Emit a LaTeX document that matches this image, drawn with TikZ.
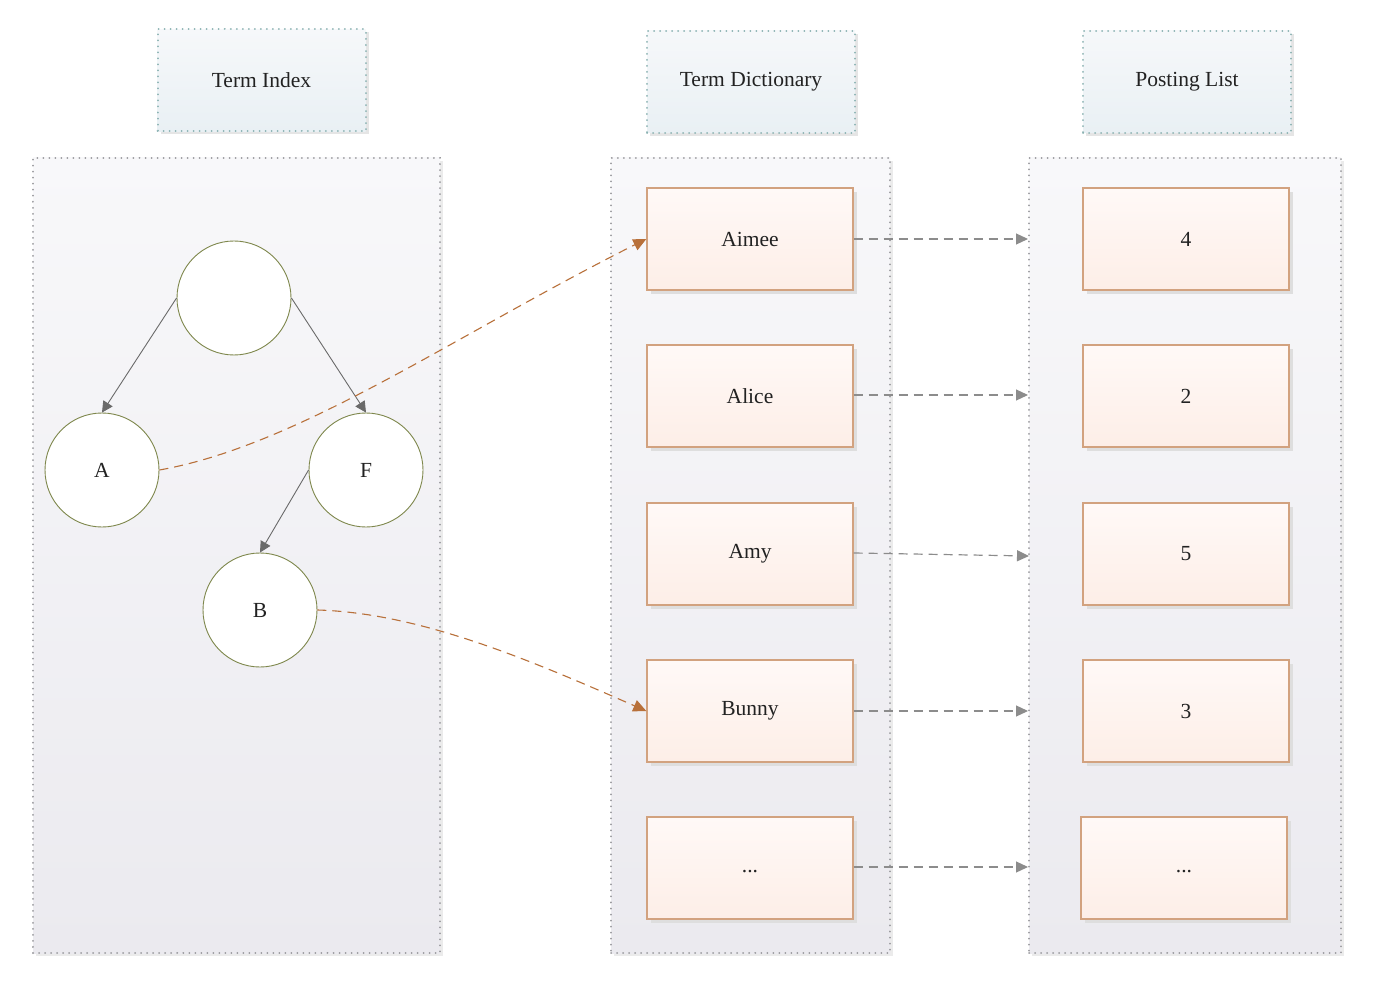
\documentclass[tikz,border=0pt]{standalone}
\usepackage{fontspec}
\setmainfont{Liberation Serif}
\usetikzlibrary{arrows.meta,shadows}
\definecolor{hdrborder}{HTML}{8AB2B2}
\definecolor{hdrtop}{HTML}{F6F8FA}
\definecolor{hdrbot}{HTML}{E9F0F4}
\definecolor{panelborder}{HTML}{9A9A9E}
\definecolor{paneltop}{HTML}{F8F8FA}
\definecolor{panelbot}{HTML}{EBEAEF}
\definecolor{boxborder}{HTML}{D2A27F}
\definecolor{boxtop}{HTML}{FFF9F7}
\definecolor{boxbot}{HTML}{FDEEE7}
\definecolor{circborder}{HTML}{7E874C}
\definecolor{treearrow}{HTML}{6A6A6A}
\definecolor{linkarrow}{HTML}{8C8C8C}
\definecolor{orangelink}{HTML}{B8703A}
\definecolor{txt}{HTML}{222222}
\tikzset{
  dotline/.style={line width=2pt, line cap=round, dash pattern=on 0.01pt off 6pt},
  header/.style={rectangle, dotline, draw=hdrborder, top color=hdrtop, bottom color=hdrbot,
    minimum width=208pt, minimum height=102pt, inner sep=0pt, text=txt,
    font=\fontsize{21.5}{24}\selectfont,
    drop shadow={shadow xshift=3pt, shadow yshift=-3pt, fill=black!10, opacity=1}},
  panel/.style={rectangle, dotline, draw=panelborder, top color=paneltop, bottom color=panelbot,
    inner sep=0pt,
    drop shadow={shadow xshift=3pt, shadow yshift=-3pt, fill=black!8, opacity=1}},
  entry/.style={rectangle, draw=boxborder, line width=1.4pt, top color=boxtop, bottom color=boxbot,
    minimum width=206pt, minimum height=102pt, inner sep=0pt, text=txt,
    font=\fontsize{21.5}{24}\selectfont,
    drop shadow={shadow xshift=4pt, shadow yshift=-4pt, fill=black!13, opacity=1}},
  treenode/.style={circle, draw=circborder, line width=0.9pt, fill=white, minimum size=114pt,
    inner sep=0pt, text=txt, font=\fontsize{21.5}{24}\selectfont},
  treearr/.style={draw=treearrow, line width=0.9pt, -{Triangle[length=11pt,width=11pt]}},
  linkarr/.style={draw=linkarrow, line width=1.2pt, dash pattern=on 9pt off 6pt,
    -{Triangle[length=12pt,width=11pt]}},
  orangearr/.style={draw=orangelink, line width=1.1pt, dash pattern=on 9pt off 6pt,
    -{Triangle[length=13pt,width=12pt]}},
}
\begin{document}
\begin{tikzpicture}[x=1pt,y=-1pt]
\useasboundingbox[fill=white] (0,0) rectangle (1374,992);

% headers
\node[header] (h1) at (261.5,80.5) {Term Index};
\node[header] (h2) at (751,82) {Term Dictionary};
\node[header] (h3) at (1187,82) {Posting List};

% panels
\node[panel, minimum width=407pt, minimum height=795pt] (p1) at (236.5,555.5) {};
\node[panel, minimum width=279pt, minimum height=795pt] (p2) at (750.5,555.5) {};
\node[panel, minimum width=312pt, minimum height=795pt] (p3) at (1185,555.5) {};

% tree
\node[treenode] (root) at (234,298) {};
\node[treenode] (A) at (102,470) {A};
\node[treenode] (F) at (366,470) {F};
\node[treenode] (B) at (260,610) {B};

\draw[treearr] (root.west) -- (A.north);
\draw[treearr] (root.east) -- (F.north);
\draw[treearr] (F.west) -- (B.north);

% dictionary
\node[entry] (d1) at (750,239) {Aimee};
\node[entry] (d2) at (750,396) {Alice};
\node[entry] (d3) at (750,554) {Amy};
\node[entry] (d4) at (750,711) {Bunny};
\node[entry] (d5) at (750,868) {...\vphantom{Ay}};

% postings
\node[entry] (l1) at (1186,239) {4};
\node[entry] (l2) at (1186,396) {2};
\node[entry] (l3) at (1186,554) {5};
\node[entry] (l4) at (1186,711) {3};
\node[entry] (l5) at (1184,868) {...\vphantom{Ay}};

% dashed links
\coordinate (e1) at (1028,239);
\coordinate (e2) at (1028,395);
\coordinate (e3) at (1029,556);
\coordinate (e4) at (1028,711);
\coordinate (e5) at (1028,867);
\draw[linkarr] (d1.east |- e1) -- (e1);
\draw[linkarr] (d2.east |- e2) -- (e2);
\draw[linkarr] (d3.east |- 0,553) -- (e3);
\draw[linkarr] (d4.east |- e4) -- (e4);
\draw[linkarr] (d5.east |- e5) -- (e5);

% orange links
\draw[orangearr] (A.east) .. controls (300,445) and (455,335) .. (d1.west);
\draw[orangearr] (B.east) .. controls (420,613) and (530,660) .. (d4.west);
\end{tikzpicture}
\end{document}
